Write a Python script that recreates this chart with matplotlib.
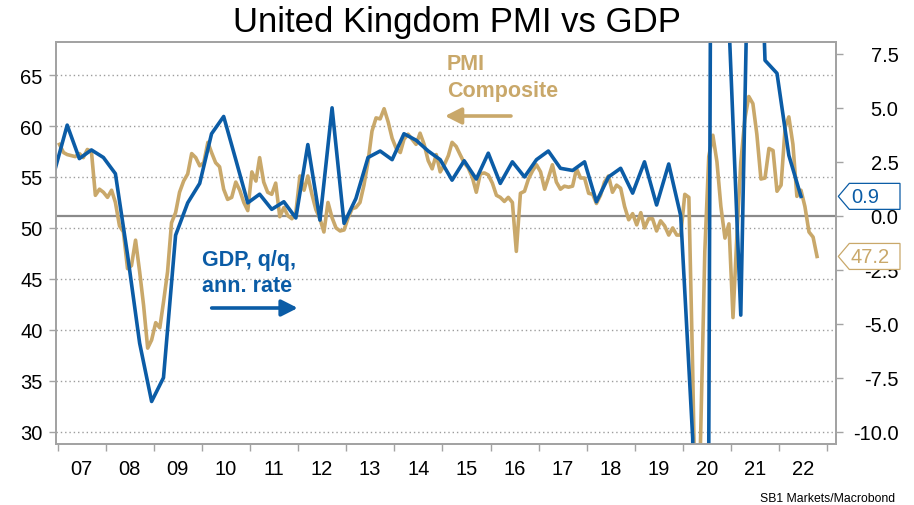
"""United Kingdom PMI vs GDP: monthly composite PMI (left) and quarterly
GDP q/q annualised (right), SB1 Markets/Macrobond style."""
import pandas as pd
import matplotlib
matplotlib.use("Agg")
import matplotlib.pyplot as plt
from matplotlib.patches import Polygon

plt.rcParams["font.family"] = ["Liberation Sans", "DejaVu Sans"]

BLUE = "#0B5CA6"
GOLD = "#C9A86A"
GRID = "#9d9d9d"
FRAME = "#a3a3a3"

# monthly PMI composite, Jan 2007 .. Oct 2022
PMI = [
    58.2, 57.4, 57.2, 57.1, 57.0, 57.3, 56.9, 57.7, 57.5, 53.2, 53.8, 53.5,  # 07
    53.0, 53.7, 52.5, 50.2, 49.6, 46.0, 46.3, 48.8, 45.7, 42.4, 38.2, 39.0,  # 08
    40.7, 40.2, 42.7, 45.7, 50.5, 51.5, 53.5, 54.6, 55.3, 57.3, 56.9, 56.1,  # 09
    56.4, 58.4, 57.4, 56.4, 56.0, 53.8, 52.8, 53.0, 54.5, 53.7, 52.5, 51.7,  # 10
    55.5, 54.6, 56.9, 54.5, 53.5, 53.3, 54.4, 51.1, 52.0, 51.2, 50.9, 51.5,  # 11
    55.1, 53.7, 55.1, 53.3, 51.8, 50.9, 49.6, 52.5, 51.0, 50.0, 49.7, 49.8,  # 12
    51.0, 51.9, 52.0, 52.5, 54.2, 56.5, 59.5, 60.8, 60.7, 61.7, 60.4, 58.8,  # 13
    57.8, 57.4, 58.7, 59.2, 58.7, 58.2, 59.3, 58.2, 56.6, 55.8, 57.2, 55.5,  # 14
    56.2, 57.1, 58.4, 58.0, 57.2, 56.4, 55.9, 55.0, 53.5, 55.3, 55.4, 55.2,  # 15
    54.4, 53.2, 53.0, 52.6, 53.0, 52.5, 47.7, 53.4, 53.6, 54.8, 55.6, 56.2,  # 16
    55.5, 53.8, 54.9, 56.2, 54.5, 53.8, 54.1, 54.0, 54.1, 55.8, 54.9, 54.9,  # 17
    53.4, 53.3, 52.4, 53.2, 54.5, 55.1, 53.5, 54.2, 53.9, 52.1, 50.8, 51.4,  # 18
    50.3, 51.5, 50.0, 50.9, 50.9, 49.7, 50.7, 50.2, 49.3, 50.0, 49.3, 49.3,  # 19
    53.3, 53.0, 36.0, 13.8, 30.0, 47.7, 57.0, 59.1, 56.5, 52.1, 49.0, 50.4,  # 20
    41.2, 49.6, 56.4, 60.7, 62.9, 62.2, 59.2, 54.8, 54.9, 57.8, 57.6, 53.6,  # 21
    54.2, 59.9, 60.9, 58.2, 53.1, 53.7, 52.1, 49.6, 49.1, 47.2,              # 22
]

# quarterly GDP q/q annualised, 2006Q4 .. 2022Q2
GDP = [
    2.2,
    4.2, 2.65, 3.05, 2.7,      # 07
    1.95, -1.8, -5.9, -8.6,    # 08
    -7.5, -0.9, 0.6, 1.5,      # 09
    3.8, 4.6, 2.6, 0.6,        # 10
    1.0, 0.3, 0.65, -0.1,      # 11
    3.3, -0.2, 5.0, -0.35,     # 12
    0.8, 2.7, 3.0, 2.6,        # 13
    3.8, 3.5, 3.0, 2.6,        # 14
    1.65, 2.55, 1.7, 2.9,      # 15
    1.5, 2.5, 1.8, 2.6,        # 16
    3.0, 2.2, 2.1, 2.5,        # 17
    0.65, 1.8, 2.2, 1.05,      # 18
    2.5, 0.5, 2.4, 0.0,        # 19
    -10.3, -58.0, 87.0, 9.0,   # 20
    -4.6, 24.0, 7.2, 6.6,      # 21
    2.8, 0.9,                  # 22
]

YEAR_LABELS = ["07", "08", "09", "10", "11", "12", "13", "14",
               "15", "16", "17", "18", "19", "20", "21", "22"]
PMI_TICKS = [30, 35, 40, 45, 50, 55, 60, 65]
GDP_TICKS = [-10.0, -7.5, -5.0, -2.5, 0.0, 2.5, 5.0, 7.5]
PMI_LIM = (28.79, 68.25)
GDP_LIM = (-10.57, 8.05)

W, H = 914, 506
L, R, B, T = 56, 836, 445, 43   # plot area in pixels


def main():
    pmi_dates = pd.date_range("2007-01-01", periods=len(PMI), freq="MS") + pd.Timedelta(days=14)
    gdp_dates = pd.date_range("2006-12-01", periods=len(GDP), freq="3MS") + pd.Timedelta(days=14)

    fig = plt.figure(figsize=(W / 100, H / 100), dpi=100)
    fig.subplots_adjust(left=L / W, right=R / W, bottom=1 - B / H, top=1 - T / H)
    ax = fig.add_subplot(111)
    ax2 = ax.twinx()

    ax.plot(pmi_dates, PMI, color=GOLD, lw=2.6, solid_joinstyle="round")
    ax2.plot(gdp_dates, GDP, color=BLUE, lw=2.6, solid_joinstyle="round")

    ax.set_ylim(*PMI_LIM)
    ax2.set_ylim(*GDP_LIM)
    ax.set_yticks(PMI_TICKS)
    ax.set_yticklabels([str(v) for v in PMI_TICKS])
    ax2.set_yticks(GDP_TICKS)
    ax2.set_yticklabels([f"{v:.1f}" for v in GDP_TICKS])

    ax.set_xlim(pd.Timestamp("2006-12-20"), pd.Timestamp("2023-03-08"))
    years = [pd.Timestamp(f"{y}-01-01") for y in range(2007, 2024)]
    mids = [pd.Timestamp(f"{y}-07-01") for y in range(2007, 2023)]
    ax.set_xticks(years)
    ax.set_xticklabels([])
    ax.set_xticks(mids, minor=True)
    ax.set_xticklabels(YEAR_LABELS, minor=True)

    ax.grid(axis="y", color=GRID, lw=1.0, linestyle=(0, (1, 2.1)))
    # solid zero line of the GDP axis, drawn in PMI units so it stays under the lines
    zero = PMI_LIM[0] + (0 - GDP_LIM[0]) / (GDP_LIM[1] - GDP_LIM[0]) * (PMI_LIM[1] - PMI_LIM[0])
    ax.axhline(zero, color="#8a8a8a", lw=1.6, zorder=1.5)

    for a in (ax, ax2):
        for s in a.spines.values():
            s.set_color(FRAME)
            s.set_linewidth(1.3)
    ax.tick_params(axis="y", direction="out", length=5, width=1, color=FRAME,
                   labelsize=14.5, pad=4.5)
    ax.tick_params(axis="x", which="major", direction="out", length=5, width=1, color=FRAME)
    ax.tick_params(axis="x", which="minor", length=0, labelsize=14.5, pad=11)
    ax2.tick_params(axis="y", direction="out", length=5, width=1, color=FRAME,
                    labelsize=14.5, pad=40)
    for lbl in ax2.get_yticklabels():
        lbl.set_ha("right")

    # series labels and arrows
    bold = dict(fontsize=15.5, fontweight="bold", transform=ax.transAxes, va="baseline")
    ax.text(0.5009, 0.9328, "PMI", color=GOLD, **bold)
    ax.text(0.5009, 0.8669, "Composite", color=GOLD, **bold)
    ax.text(0.1868, 0.4453, "GDP, q/q,", color=BLUE, **bold)
    ax.text(0.1868, 0.3813, "ann. rate", color=BLUE, **bold)
    arrow = dict(arrowstyle="-|>,head_length=0.65,head_width=0.33", lw=2.6,
                 mutation_scale=15, shrinkA=0, shrinkB=0)
    ax.annotate("", xy=(0.4987, 0.8159), xytext=(0.5833, 0.8159), xycoords="axes fraction",
                arrowprops=dict(color=GOLD, **arrow))
    ax.annotate("", xy=(0.3099, 0.3383), xytext=(0.1996, 0.3383), xycoords="axes fraction",
                arrowprops=dict(color=BLUE, **arrow))

    fig.text(0.5, 1 - 32 / H, "United Kingdom PMI vs GDP", ha="center", va="baseline",
             fontsize=25)
    fig.text(895 / W, 1 - 502 / H, "SB1 Markets/Macrobond", ha="right", va="baseline",
             fontsize=8.8)

    # last-value tags on the right
    fig.canvas.draw()
    inv = fig.transFigure.inverted()

    def tag(axis, value, text, color):
        _, y = axis.transData.transform((0, value))
        pts = [(838.3, y), (849.3, y + 13), (900, y + 13), (900, y - 13), (849.3, y - 13)]
        fig.add_artist(Polygon(inv.transform(pts), closed=True, facecolor="white",
                               edgecolor=color, lw=0.9, transform=fig.transFigure, zorder=5))
        fx, fy = inv.transform((851, y))
        fig.text(fx, fy, text, color=color, fontsize=14.5, ha="left", va="center", zorder=6)

    tag(ax2, GDP[-1], f"{GDP[-1]:.1f}", BLUE)
    tag(ax, PMI[-1], f"{PMI[-1]:.1f}", GOLD)

    fig.savefig("out.png", dpi=100)
    plt.close(fig)


if __name__ == "__main__":
    main()
